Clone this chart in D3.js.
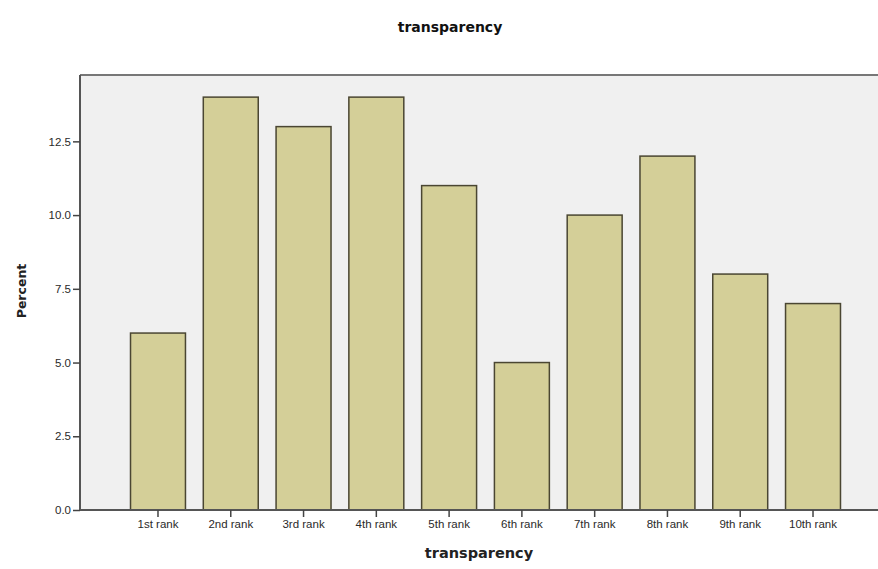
<!DOCTYPE html>
<html><head><meta charset="utf-8">
<script src="https://cdn.jsdelivr.net/npm/d3@7"></script>
<style>body{margin:0;background:#fff}svg{display:block}</style>
</head><body>
<script>
const categories = ["1st rank","2nd rank","3rd rank","4th rank","5th rank","6th rank","7th rank","8th rank","9th rank","10th rank"];
const percents = [6,14,13,14,11,5,10,12,8,7];
const yTicks = [0,2.5,5,7.5,10,12.5];

const W = 878, H = 569;
const svg = d3.select("body").append("svg").attr("width",W).attr("height",H);
const pLeft = 80, pTop = 75, pBottom = 510, pRight = 878;

const x = d3.scaleBand().domain(categories).range([121.6, 849.4]).paddingInner(0.245).paddingOuter(0.1225);
const y = d3.scaleLinear().domain([0,14.75]).range([pBottom, pTop]);

svg.append("rect").attr("x",pLeft).attr("y",pTop).attr("width",pRight-pLeft).attr("height",pBottom-pTop).attr("fill","#f0f0f0");
svg.append("line").attr("x1",pLeft).attr("x2",pRight).attr("y1",pTop).attr("y2",pTop).attr("stroke","#777").attr("stroke-width",2);

svg.selectAll("rect.bar").data(percents).enter().append("rect").attr("class","bar")
  .attr("x",(d,i)=>x(categories[i])).attr("width",x.bandwidth())
  .attr("y",d=>y(d)).attr("height",d=>pBottom-y(d))
  .attr("fill","#d4cf98").attr("stroke","#4a4632").attr("stroke-width",1.5);

const yAxis = svg.append("g").attr("transform",`translate(${pLeft},0)`)
  .call(d3.axisLeft(y).tickValues(yTicks).tickFormat(d3.format(".1f")).tickSize(7).tickPadding(2));
const xAxis = svg.append("g").attr("transform",`translate(0,${pBottom})`)
  .call(d3.axisBottom(x).tickSize(7).tickPadding(3));
[yAxis,xAxis].forEach(g=>{
  g.select(".domain").attr("stroke","#555").attr("stroke-width",2);
  g.selectAll(".tick line").attr("stroke","#444").attr("stroke-width",1.5);
  g.selectAll("text").attr("fill","#2a2a2a").style("font-family","Arial, 'Liberation Sans', sans-serif").style("font-size","11.5px");
});
xAxis.select(".domain").attr("d",`M${pLeft},0H${pRight}`);
yAxis.select(".domain").attr("d",`M0,${pTop}V${pBottom}`);

svg.append("text").attr("x",450).attr("y",32).attr("text-anchor","middle")
  .style("font-family","'DejaVu Sans', Verdana, sans-serif").style("font-weight","bold").style("font-size","14px").attr("fill","#111").text("transparency");
svg.append("text").attr("x",479).attr("y",558).attr("text-anchor","middle")
  .style("font-family","'DejaVu Sans', Verdana, sans-serif").style("font-weight","bold").style("font-size","14.5px").attr("fill","#222").text("transparency");
svg.append("text").attr("transform","translate(26,291) rotate(-90)").attr("text-anchor","middle")
  .style("font-family","'DejaVu Sans', Verdana, sans-serif").style("font-weight","bold").style("font-size","12.5px").attr("fill","#222").text("Percent");
</script>
</body></html>
